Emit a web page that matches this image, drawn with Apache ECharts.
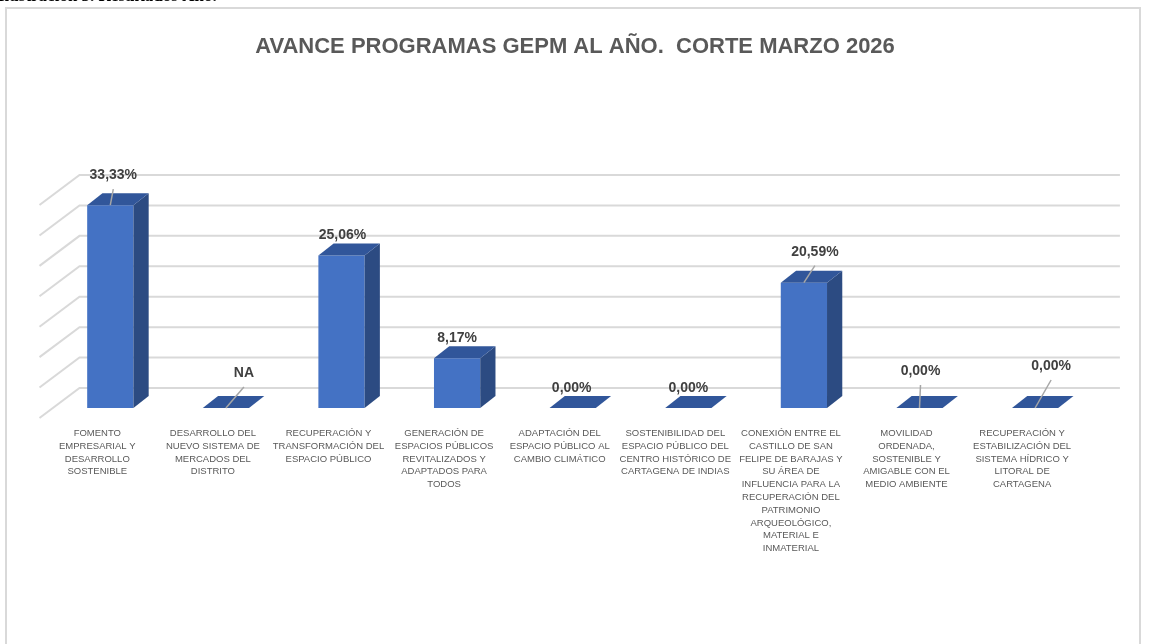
<!DOCTYPE html>
<html>
<head>
<meta charset="utf-8">
<script src="https://cdn.jsdelivr.net/npm/echarts@6/dist/echarts.min.js"></script>
<style>
  html, body { margin: 0; padding: 0; background: #fff; }
  #main { width: 1150px; height: 644px; }
</style>
</head>
<body>
<div id="main"></div>
<script>
var categories = [
  "FOMENTO\nEMPRESARIAL Y\nDESARROLLO\nSOSTENIBLE",
  "DESARROLLO DEL\nNUEVO SISTEMA DE\nMERCADOS DEL\nDISTRITO",
  "RECUPERACIÓN Y\nTRANSFORMACIÓN DEL\nESPACIO PÚBLICO",
  "GENERACIÓN DE\nESPACIOS PÚBLICOS\nREVITALIZADOS Y\nADAPTADOS PARA\nTODOS",
  "ADAPTACIÓN DEL\nESPACIO PÚBLICO AL\nCAMBIO CLIMÁTICO",
  "SOSTENIBILIDAD DEL\nESPACIO PÚBLICO DEL\nCENTRO HISTÓRICO DE\nCARTAGENA DE INDIAS",
  "CONEXIÓN ENTRE EL\nCASTILLO DE SAN\nFELIPE DE BARAJAS Y\nSU ÁREA DE\nINFLUENCIA PARA LA\nRECUPERACIÓN DEL\nPATRIMONIO\nARQUEOLÓGICO,\nMATERIAL E\nINMATERIAL",
  "MOVILIDAD\nORDENADA,\nSOSTENIBLE Y\nAMIGABLE CON EL\nMEDIO AMBIENTE",
  "RECUPERACIÓN Y\nESTABILIZACIÓN DEL\nSISTEMA HÍDRICO Y\nLITORAL DE\nCARTAGENA"
];
// avance en %, null = NA
var avance = [33.33, null, 25.06, 8.17, 0, 0, 20.59, 0, 0];
var ticks = [0, 5, 10, 15, 20, 25, 30, 35];

// desplazamiento manual de etiquetas (como en el grafico original)
var labelNudge = [[3, -30], [18, -35], [1, -20], [0, -20], [-1, -20], [0, -20], [11, -31], [1, -37], [16, -42]];

var backOff = [27, -20];   // pared del fondo
var frontOff = [-13, 10];  // borde frontal del piso

function fmt(v) {
  if (v === null) return "NA";
  return v.toFixed(2).replace(".", ",") + "%";
}

var barData = avance.map(function (v, i) {
  return { value: [i, v === null ? 0 : v], txt: fmt(v) };
});

function renderGrid(params, api) {
  var v = api.value(1);
  var p = api.coord([0, v]);
  var cs = params.coordSys;
  var y = p[1];
  return {
    type: "polyline",
    silent: true,
    shape: {
      points: [
        [cs.x + frontOff[0], y + frontOff[1]],
        [cs.x + backOff[0], y + backOff[1]],
        [cs.x + cs.width + backOff[0], y + backOff[1]]
      ]
    },
    style: { fill: null, stroke: "#d9d9d9", lineWidth: 2 }
  };
}

function renderBar(params, api) {
  var i = api.value(0), v = api.value(1);
  var base = api.coord([i, 0]);
  var top = api.coord([i, v]);
  var w = api.size([1, 0])[0] * 0.4;
  var dx = w * 0.33, dy = -w * 0.26;
  var x0 = base[0] - w / 2, x1 = base[0] + w / 2;
  var yb = base[1], yt = top[1];
  var kids = [];
  if (v > 0) {
    kids.push({
      type: "rect",
      shape: { x: x0, y: yt, width: w, height: yb - yt },
      style: { fill: "#4472c4" }
    });
    kids.push({
      type: "polygon",
      shape: { points: [[x1, yb], [x1 + dx, yb + dy], [x1 + dx, yt + dy], [x1, yt]] },
      style: { fill: "#2c4b82" }
    });
  }
  kids.push({
    type: "polygon",
    shape: { points: [[x0, yt], [x1, yt], [x1 + dx, yt + dy], [x0 + dx, yt + dy]] },
    style: { fill: "#31569a" }
  });
  var n = labelNudge[i];
  var lx = top[0] + n[0], ly = top[1] + n[1];
  if (n[1] < -25) {
    kids.push({
      type: "line",
      shape: { x1: lx, y1: ly + 14, x2: top[0], y2: top[1] },
      style: { stroke: "#a6a6a6", lineWidth: 1.5 }
    });
  }
  kids.push({
    type: "text",
    x: lx, y: ly,
    style: {
      text: barData[i].txt,
      fill: "#404040",
      font: "bold 14px 'Liberation Sans', Arial, sans-serif",
      align: "center",
      verticalAlign: "middle"
    }
  });
  return { type: "group", children: kids };
}

var chart = echarts.init(document.getElementById("main"));
chart.setOption({
  animation: false,
  backgroundColor: "#fff",
  title: {
    text: "AVANCE PROGRAMAS GEPM AL AÑO.  CORTE MARZO 2026",
    left: "center",
    top: 31,
    textStyle: {
      color: "#595959",
      fontSize: 22,
      fontWeight: "bold",
      fontFamily: "'Liberation Sans', Arial, sans-serif"
    }
  },
  graphic: [
    {
      type: "rect",
      shape: { x: 6, y: 8, width: 1134, height: 700 },
      style: { fill: null, stroke: "#d9d9d9", lineWidth: 2 }
    },
    {
      type: "text",
      x: -2, y: 5,
      style: {
        text: "Ilustración 3. Resultados Año.",
        fill: "#000",
        font: "bold 17px 'Liberation Serif', 'DejaVu Serif', serif",
        verticalAlign: "bottom"
      }
    }
  ],
  grid: { left: 52.5, width: 1040.4, top: 195, bottom: 236 },
  xAxis: {
    type: "category",
    data: categories,
    axisLine: { show: false },
    axisTick: { show: false },
    axisLabel: {
      interval: 0,
      margin: 19,
      color: "#595959",
      fontSize: 9.5,
      lineHeight: 12.8,
      fontFamily: "'Liberation Sans', Arial, sans-serif",
      align: "center",
      padding: [0, 26, 0, 0]
    }
  },
  yAxis: {
    type: "value",
    min: 0,
    max: 35,
    interval: 5,
    show: false,
    splitLine: { show: false }
  },
  series: [
    {
      type: "custom",
      silent: true,
      z: 1,
      renderItem: renderGrid,
      data: ticks.map(function (t) { return [0, t]; })
    },
    {
      type: "custom",
      z: 2,
      renderItem: renderBar,
      data: barData
    }
  ]
});
</script>
</body>
</html>
